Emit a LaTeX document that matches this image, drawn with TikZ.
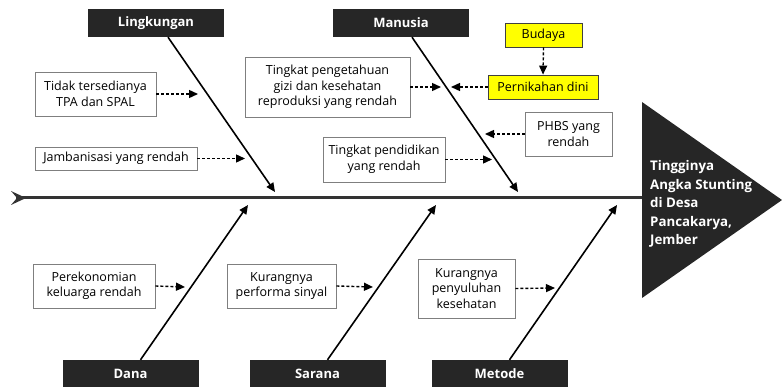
\documentclass[tikz,border=0pt]{standalone}
\usepackage{fontspec}
\setmainfont{Open Sans}
\usetikzlibrary{arrows.meta,positioning}
\definecolor{headfill}{HTML}{262626}
\definecolor{spinecol}{HTML}{333333}
\definecolor{causeline}{HTML}{7F7F7F}
\definecolor{culturefill}{HTML}{FFFF00}
\tikzset{
    %Define standard arrow tip
    >={Triangle[length=9pt,width=8pt]},
    %Define style for category boxes
    head/.style={
           rectangle,
           fill=headfill,
           text=white,
           font=\bfseries\fontsize{13}{15}\selectfont,
           minimum width=136pt,
           minimum height=28pt,
           inner sep=0pt},
    %Define style for cause boxes
    cause/.style={
           rectangle,
           draw=causeline, line width=0.8pt,
           fill=white,
           font=\fontsize{12.5}{15.5}\selectfont,
           align=center,
           inner sep=0pt},
    culture/.style={
           cause,
           draw=black!75,
           fill=culturefill},
    % Define arrow styles
    bone/.style={
           ->,
           line width=1.6pt},
    feed/.style={
           ->,
           dash pattern=on 3pt off 2pt,
           line width=1.4pt},
    spine/.style={
           draw=spinecol,
           line width=3pt}
}

\begin{document}
\begin{tikzpicture}[x=1pt, y=-1pt]
 \useasboundingbox[fill=white] (0,0) rectangle (782,387);
 %head and spine
    \fill[headfill] (642,102) -- (782,200) -- (642,298) -- cycle;
    \node[text=white, font=\bfseries\fontsize{13.3}{18.5}\selectfont, align=left, anchor=west, inner sep=0pt] (goal) at (650,204) {Tingginya\\Angka Stunting\\di Desa\\Pancakarya,\\Jember};
    \coordinate (tail) at (16,198);
    \coordinate (head) at (642,198);
    \draw[spine] (tail) -- (head);
    \fill[spinecol] (11,191) -- (26,198) -- (11,205) -- (17,198) -- cycle;
 %categories
    \node[head] (lingk) at (156,23) {Lingkungan};
    \node[head] (manus) at (401,23) {Manusia};
    \node[head] (dana) at (130.5,374) {Dana};
    \node[head] (sarana) at (317.5,374) {Sarana};
    \node[head] (metode) at (499.5,374) {Metode};
 %causes
    \node[cause, minimum width=121pt, minimum height=44pt] (tpa) at (95.5,94) {Tidak tersedianya\\TPA dan SPAL};
    \node[cause, minimum width=162pt, minimum height=23pt] (jamban) at (116,158.5) {Jambanisasi yang rendah};
    \node[cause, minimum width=165pt, minimum height=60pt] (gizi) at (327.5,87) {Tingkat pengetahuan\\gizi dan kesehatan\\reproduksi yang rendah};
    \node[culture, minimum width=77pt, minimum height=24pt] (budaya) at (543.5,35) {Budaya};
    \node[culture, minimum width=110pt, minimum height=24pt] (nikah) at (543,87) {Pernikahan dini};
    \node[cause, minimum width=87pt, minimum height=44pt] (phbs) at (568.5,134) {PHBS yang\\rendah};
    \node[cause, minimum width=122pt, minimum height=45pt] (didik) at (384,159.5) {Tingkat pendidikan\\yang rendah};
    \node[cause, minimum width=122pt, minimum height=44pt] (ekonomi) at (94,286) {Perekonomian\\keluarga rendah};
    \node[cause, minimum width=109pt, minimum height=44pt] (sinyal) at (281.5,286) {Kurangnya\\performa sinyal};
    \node[cause, minimum width=97pt, minimum height=59pt] (suluh) at (466.5,288.5) {Kurangnya\\penyuluhan\\kesehatan};
 %bone ends
    \coordinate (lingkend) at (275,192);
    \coordinate (manusend) at (518,192);
    \coordinate (danaend) at (248,205);
    \coordinate (saranaend) at (436,205);
    \coordinate (metodeend) at (617,205);
 %edges
    \draw[bone] ([xshift=12pt]lingk.south) -- (lingkend);
    \draw[bone] ([xshift=11pt]manus.south) -- (manusend);
    \draw[bone] ([xshift=10pt]dana.north) -- (danaend);
    \draw[bone] ([xshift=10pt]sarana.north) -- (saranaend);
    \draw[bone] ([xshift=10pt]metode.north) -- (metodeend);
    \draw[feed] (tpa.east) -- (198,94);
    \draw[feed] (jamban.east) -- (245,158.5);
    \draw[feed] (gizi.east) -- (441,87);
    \draw[feed] (nikah.west) -- (451,87);
    \draw[feed] (budaya.south) -- (nikah.north);
    \draw[feed] (phbs.west) -- (485,134);
    \draw[feed] (didik.east) -- (492,159.5);
    \draw[feed] (ekonomi.east) -- (185,287);
    \draw[feed] (sinyal.east) -- (373,287);
    \draw[feed] (suluh.east) -- (555,288);
  \end{tikzpicture}
\end{document}
